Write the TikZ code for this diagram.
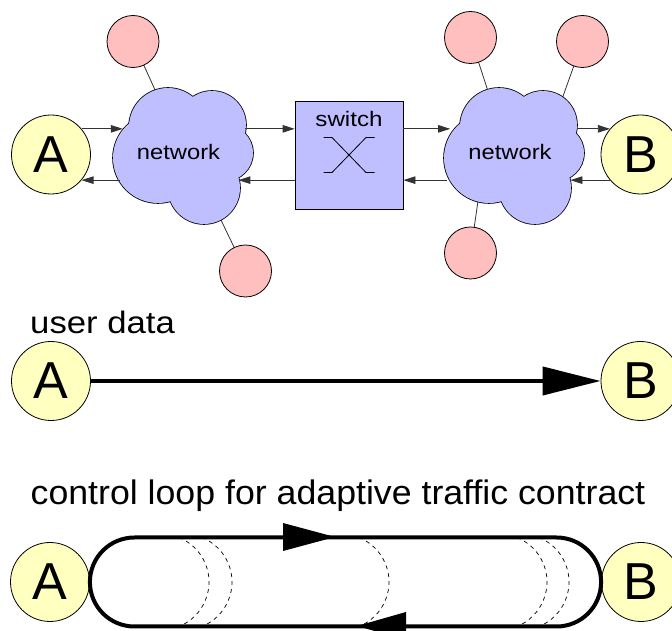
\documentclass[tikz,border=0pt]{standalone}
\usepackage{fontspec}
\usepackage{graphicx}
\setmainfont{Liberation Sans}
\usetikzlibrary{arrows.meta,calc}
\pgfdeclarelayer{back}
\pgfsetlayers{back,main}
\definecolor{netblue}{RGB}{191,191,255}
\definecolor{hostpink}{RGB}{255,191,191}
\definecolor{endyellow}{RGB}{255,255,192}
\tikzset{
  endpt/.style={circle, draw=black, line width=0.8pt, fill=endyellow, minimum size=79pt,
    inner sep=0pt, font=\fontsize{52}{52}\selectfont},
  host/.style={circle, draw=black, line width=0.8pt, fill=hostpink, minimum size=52pt, inner sep=0pt},
  netlabel/.style={circle, minimum size=134pt, inner sep=0pt, font=\fontsize{21}{21}\selectfont},
  switchbox/.style={rectangle, draw=black, line width=0.8pt, fill=netblue, minimum size=108pt, inner sep=0pt},
  link/.style={line width=0.8pt, black!80},
  flow/.style={line width=0.8pt, black!80, -{Triangle[length=12pt,width=7.5pt]}},
  heading/.style={anchor=base west, inner sep=0pt},
  wave/.style={line width=0.7pt, dash pattern=on 4pt off 4pt},
  loopline/.style={line width=4pt},
}
% a network cloud drawn as a union of puffs: outline first, then the fill on top
\newcommand\netcloud[1]{%
  \begin{scope}[shift={#1}]
    \foreach \px/\py/\rad in {-25.5/-3/45, -15.5/28/39, 28.5/30/34, 41.5/2/28, 20.5/-33/36, 1.5/0/45}
      \draw[line width=1.6pt] (\px,\py) circle[radius=\rad pt];
    \foreach \px/\py/\rad in {-25.5/-3/45, -15.5/28/39, 28.5/30/34, 41.5/2/28, 20.5/-33/36, 1.5/0/45}
      \fill[netblue] (\px,\py) circle[radius=\rad pt];
  \end{scope}}
\begin{document}
\begin{tikzpicture}[x=1pt,y=1pt]
\begin{pgfonlayer}{back}
  \fill[white] (0,0) rectangle (672,631);
\end{pgfonlayer}
\useasboundingbox (0,0) rectangle (672,631);

% ---- network path: A -- network -- switch -- network -- B
\netcloud{(183.5,476)}
\netcloud{(514.5,476)}
\node[endpt] (A1) at (51,476.5) {A};
\node[netlabel] (N1) at (178.5,478.5) {\scalebox{1.13}[1]{network}};
\node[switchbox] (S) at (349,476) {};
\node[anchor=base, inner sep=0pt, font=\fontsize{21}{21}\selectfont] (Slabel) at (349,504) {\scalebox{1.15}[1]{switch}};
\draw[line width=0.8pt] ([shift={(-25.5,17.5)}]S.center) -- ++(8.5,0) -- ++(34,-35) -- ++(8.5,0);
\draw[line width=0.8pt] ([shift={(25.5,17.5)}]S.center) -- ++(-8.5,0) -- ++(-34,-35) -- ++(-8.5,0);
\node[netlabel] (N2) at (510,478.5) {\scalebox{1.13}[1]{network}};
\node[endpt] (B1) at (640.5,476.5) {B};

% hosts attached to the networks
\node[host] (P1) at (133,589.5) {};
\node[host] (P2) at (245.5,360) {};
\node[host] (P3) at (470.5,593.5) {};
\node[host] (P4) at (582.5,589.5) {};
\node[host] (P5) at (470.5,378) {};
\begin{pgfonlayer}{back}
  \draw[link] (P1.center) -- ($(N1.center)+(5,0)$);
  \draw[link] (P2.center) -- ($(N1.center)+(10,0)$);
  \draw[link] (P3.center) -- ($(N2.center)+(-2,0)$);
  \draw[link] (P4.center) -- ($(N2.center)+(33,0)$);
  \draw[link] (P5.center) -- ($(N2.center)+(-25,0)$);
\end{pgfonlayer}

% forward and backward directions
\draw[flow] (A1.40) -- (N1.146 |- A1.40);
\draw[flow] (N1.-151 |- A1.-40) -- (A1.-40);
\draw[flow] (N1.7 |- A1.40) -- (S.west |- A1.40);
\draw[flow] (S.west |- A1.-40) -- (N1.-27 |- A1.-40);
\draw[flow] (S.east |- A1.40) -- (N2.153.6 |- A1.40);
\draw[flow] (N2.-160 |- A1.-40) -- (S.east |- A1.-40);
\draw[flow] (N2.0 |- A1.40) -- (B1.140);
\draw[flow] (B1.-140) -- (N2.-26 |- A1.-40);

% ---- user data
\node[heading, font=\fontsize{31}{31}\selectfont] (ud) at (30,297) {\scalebox{1.12}[1]{user data}};
\node[endpt] (A2) at (51,250) {A};
\node[endpt] (B2) at (640.5,250) {B};
\draw[line width=4pt, -{Triangle[length=58pt,width=28pt]}] (A2) -- (B2);

% ---- control loop
\node[heading, font=\fontsize{34}{34}\selectfont] (cl) at (30.5,126) {\scalebox{1.05}[1]{control loop for adaptive traffic contract}};
\node[endpt] (A3) at (50,49) {A};
\node[endpt] (B3) at (641,49) {B};
\coordinate (Lc) at ($(A3.east)+(44.5,0)$);
\coordinate (Rc) at ($(B3.west)+(-44.5,0)$);
\foreach \a in {209,232,389,547,569}
  \draw[wave] (\a-30.02,93.5) arc (68:-68:48pt);
\draw[loopline] ($(Lc)+(0,44.5)$) -- ($(Rc)+(0,44.5)$) arc (90:-90:44.5pt)
  -- ($(Lc)+(0,-44.5)$) arc (270:90:44.5pt) -- cycle;
\fill (283,108) -- (283,80) -- (335,94) -- cycle;
\fill (406,19) -- (406,-9) -- (357,5) -- cycle;
\end{tikzpicture}
\end{document}
